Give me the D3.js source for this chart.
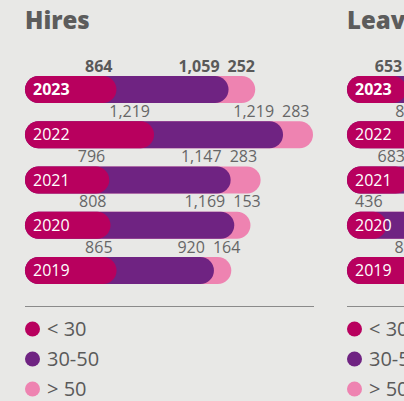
<!DOCTYPE html>
<html>
<head>
<meta charset="utf-8">
<script src="https://cdn.jsdelivr.net/npm/d3@7/dist/d3.min.js"></script>
<style>
  html, body { margin: 0; padding: 0; background: #e8e8e6; overflow: hidden; }
  svg { display: block; font-family: "Open Sans", sans-serif; }
</style>
</head>
<body>
<script>
// data
var years = ["2023", "2022", "2021", "2020", "2019"];
var groups = ["< 30", "30-50", "> 50"];
var hiresUnder30 = [864, 1219, 796, 808, 865];
var hires30to50 = [1059, 1219, 1147, 1169, 920];
var hiresOver50 = [252, 283, 283, 153, 164];
var leavesUnder30 = [653, 880, 683, 436, 871];
var leaves30to50 = [1320, 1650, 1410, 1290, 1180];
var leavesOver50 = [560, 645, 590, 480, 510];
var colors = ["#b8005e", "#6f2382", "#ee83b1"];

var W = 404, H = 401;
var svg = d3.select("body").append("svg").attr("width", W).attr("height", H);

// page title, mostly above the visible area
svg.append("text")
  .attr("x", 160).attr("y", -5)
  .style("font-size", "22px").style("font-weight", 700)
  .style("fill", colors[0])
  .text("Turnover by age group");

var y = d3.scaleBand().domain(years).range([76, 284]).paddingInner(0.404);

function drawPanel(x0, title, s1, s2, s3) {
  var g = svg.append("g");
  var rows = years.map(function (yr, i) {
    return { year: yr, vals: [s1[i], s2[i], s3[i]], cum: [s1[i], s1[i] + s2[i], s1[i] + s2[i] + s3[i]], bold: i === 0 };
  });
  var x = d3.scaleLinear()
    .domain([0, d3.max(rows, function (d) { return d.cum[2]; })])
    .range([x0, x0 + 288]);

  g.append("text")
    .attr("x", x0).attr("y", 29)
    .style("font-size", "24px").style("font-weight", 800)
    .style("fill", "#5c5c5c")
    .text(title);

  var h = y.bandwidth();
  var row = g.selectAll(".row").data(rows).enter().append("g").attr("class", "row");

  // back to front: pink, purple, magenta
  [2, 1, 0].forEach(function (k) {
    row.append("rect")
      .attr("x", x0)
      .attr("y", function (d) { return y(d.year); })
      .attr("width", function (d) { return x(d.cum[k]) - x0; })
      .attr("height", h)
      .attr("rx", h / 2).attr("ry", h / 2)
      .style("fill", colors[k]);
  });

  row.append("text")
    .attr("x", x0 + 8)
    .attr("y", function (d) { return y(d.year) + h / 2 + 5.5; })
    .style("font-size", "16px")
    .style("font-weight", function (d) { return d.bold ? 700 : 400; })
    .style("fill", "#fff")
    .text(function (d) { return d.year; });

  var fmt = d3.format(",");
  function lbl(anchor, fx, k) {
    row.append("text")
      .attr("x", fx)
      .attr("y", function (d) { return y(d.year) - 4.5; })
      .attr("text-anchor", anchor)
      .style("font-size", "16px")
      .style("font-weight", function (d) { return d.bold ? 700 : 400; })
      .style("fill", function (d) { return d.bold ? "#595959" : "#666"; })
      .text(function (d) { return fmt(d.vals[k]); });
  }
  lbl("end", function (d) { return x(d.cum[0]) - 4; }, 0);
  lbl("end", function (d) { return x(d.cum[1]) - 9; }, 1);
  lbl("start", function (d) { return x(d.cum[1]) - 1; }, 2);

  // legend
  g.append("line")
    .attr("x1", x0).attr("x2", x0 + 289)
    .attr("y1", 306.5).attr("y2", 306.5)
    .style("stroke", "#8a8a8a").style("stroke-width", 1);

  var ly = d3.scalePoint().domain(groups).range([329, 389]);
  var item = g.selectAll(".leg").data(groups).enter().append("g").attr("class", "leg");
  item.append("circle")
    .attr("cx", x0 + 7.5)
    .attr("cy", function (d) { return ly(d); })
    .attr("r", 7.5)
    .style("fill", function (d, i) { return colors[i]; });
  item.append("text")
    .attr("x", x0 + 22)
    .attr("y", function (d) { return ly(d) + 7; })
    .style("font-size", "20px")
    .style("fill", "#5a5a5a")
    .text(function (d) { return d; });
}

drawPanel(25, "Hires", hiresUnder30, hires30to50, hiresOver50);
drawPanel(347, "Leaves", leavesUnder30, leaves30to50, leavesOver50);
</script>
</body>
</html>
